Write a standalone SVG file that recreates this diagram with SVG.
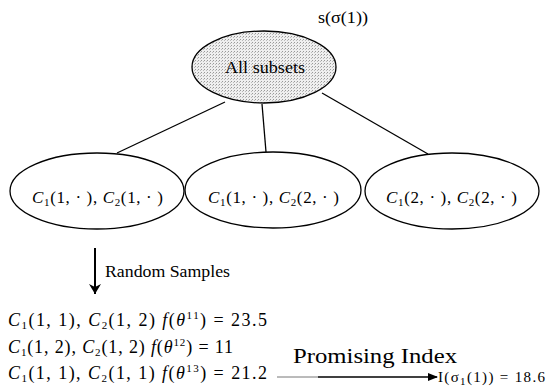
<svg xmlns="http://www.w3.org/2000/svg" width="551" height="392" viewBox="0 0 551 392" font-family="'Liberation Serif', 'DejaVu Serif', serif">
<defs>
<pattern id="dots" width="3" height="3" patternUnits="userSpaceOnUse">
<rect width="3" height="3" fill="#efefef"/>
<rect x="0" y="0" width="1" height="1" fill="#999"/>
<rect x="2" y="1" width="1" height="1" fill="#bbb"/>
</pattern>
<marker id="ah" markerWidth="10" markerHeight="8" refX="9" refY="4" orient="auto" markerUnits="userSpaceOnUse">
<path d="M0,0 L10,4 L0,8 Z" fill="#000"/>
</marker>
<marker id="ahd" markerWidth="10" markerHeight="12" refX="10" refY="6" orient="auto" markerUnits="userSpaceOnUse">
<path d="M0,0 L10,6 L0,12 L3,6 Z" fill="#000"/>
</marker>
</defs>
<style>
text{font-family:'Liberation Serif','DejaVu Serif',serif;fill:#000}
.n{fill:#fff;stroke:#000;stroke-width:1.3}
.m{font-size:17px}
.i{font-style:italic}
.s{font-size:11px}
line{stroke:#000;stroke-width:1.3}
</style>
<g id="connectors">
<line x1="225" y1="102" x2="117" y2="153"/>
<line x1="262" y1="104" x2="266" y2="152"/>
<line x1="322" y1="93" x2="428" y2="154"/>
<line x1="95" y1="248" x2="95" y2="294" style="stroke-width:2" marker-end="url(#ahd)"/>
<line x1="277" y1="377" x2="318" y2="377" style="stroke:#777;stroke-width:1"/>
<line x1="318" y1="377" x2="437" y2="377" marker-end="url(#ah)"/>
</g>
<g id="root">
<ellipse cx="264" cy="67" rx="72" ry="36" fill="url(#dots)" stroke="#000" stroke-width="1.3"/>
<text x="225" y="73" font-size="17" textLength="80" lengthAdjust="spacingAndGlyphs">All subsets</text>
<text x="318" y="23" font-size="17" textLength="50" lengthAdjust="spacingAndGlyphs">s(σ(1))</text>
</g>
<g id="child1">
<ellipse class="n" cx="97" cy="191" rx="87" ry="38"/>
<text x="32" y="203" class="m" textLength="131"><tspan class="i">C</tspan><tspan class="s" dy="3">1</tspan><tspan dy="-3">(1,  · ), </tspan><tspan class="i">C</tspan><tspan class="s" dy="3">2</tspan><tspan dy="-3">(1,  · )</tspan></text>
</g>
<g id="child2">
<ellipse class="n" cx="273" cy="190" rx="88" ry="38"/>
<text x="208" y="203" class="m" textLength="131"><tspan class="i">C</tspan><tspan class="s" dy="3">1</tspan><tspan dy="-3">(1,  · ), </tspan><tspan class="i">C</tspan><tspan class="s" dy="3">2</tspan><tspan dy="-3">(2,  · )</tspan></text>
</g>
<g id="child3">
<ellipse class="n" cx="452" cy="191" rx="87" ry="38" stroke-width="1.6"/>
<text x="386" y="203" class="m" textLength="131"><tspan class="i">C</tspan><tspan class="s" dy="3">1</tspan><tspan dy="-3">(2,  · ), </tspan><tspan class="i">C</tspan><tspan class="s" dy="3">2</tspan><tspan dy="-3">(2,  · )</tspan></text>
</g>
<g id="labels">
<text x="105" y="277" font-size="16" textLength="125" lengthAdjust="spacingAndGlyphs">Random Samples</text>
<text x="8" y="326" font-size="18" textLength="259"><tspan class="i">C</tspan><tspan class="s" dy="3">1</tspan><tspan dy="-3">(1, 1),  </tspan><tspan class="i">C</tspan><tspan class="s" dy="3">2</tspan><tspan dy="-3">(1, 2)  </tspan><tspan class="i">f</tspan><tspan>(</tspan><tspan class="i">θ</tspan><tspan class="s" dy="-7">11</tspan><tspan dy="7">) = 23.5</tspan></text>
<text x="8" y="353" font-size="18" textLength="225"><tspan class="i">C</tspan><tspan class="s" dy="3">1</tspan><tspan dy="-3">(1, 2),  </tspan><tspan class="i">C</tspan><tspan class="s" dy="3">2</tspan><tspan dy="-3">(1, 2)  </tspan><tspan class="i">f</tspan><tspan>(</tspan><tspan class="i">θ</tspan><tspan class="s" dy="-7">12</tspan><tspan dy="7">) = 11</tspan></text>
<text x="8" y="379" font-size="18" textLength="259"><tspan class="i">C</tspan><tspan class="s" dy="3">1</tspan><tspan dy="-3">(1, 1),  </tspan><tspan class="i">C</tspan><tspan class="s" dy="3">2</tspan><tspan dy="-3">(1, 1)  </tspan><tspan class="i">f</tspan><tspan>(</tspan><tspan class="i">θ</tspan><tspan class="s" dy="-7">13</tspan><tspan dy="7">) = 21.2</tspan></text>
<text x="293" y="363" font-size="20" textLength="164" lengthAdjust="spacingAndGlyphs">Promising Index</text>
<text x="438" y="382" font-size="15" textLength="107">I(σ<tspan class="s" dy="3">1</tspan><tspan dy="-3">(1)) = 18.6</tspan></text>
</g>
</svg>
